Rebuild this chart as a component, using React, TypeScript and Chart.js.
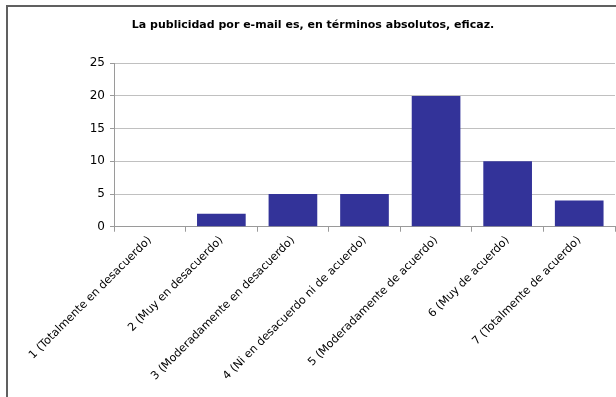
import React, { useEffect, useRef } from "react";
import { Chart, registerables } from "chart.js";

Chart.register(...registerables);

const chartTitle = "La publicidad por e-mail es, en términos absolutos, eficaz.";

const categories = [
  "1 (Totalmente en desacuerdo)",
  "2 (Muy en desacuerdo)",
  "3 (Moderadamente en desacuerdo)",
  "4 (Ni en desacuerdo ni de acuerdo)",
  "5 (Moderadamente de acuerdo)",
  "6 (Muy de acuerdo)",
  "7 (Totalmente de acuerdo)",
];

const responses = [0, 2, 5, 5, 20, 10, 4];

const yTicks = [0, 5, 10, 15, 20, 25];

const FONT = "'DejaVu Sans', Verdana, sans-serif";

export default function App() {
  const canvasRef = useRef<HTMLCanvasElement | null>(null);

  useEffect(() => {
    document.body.style.margin = "0";
    const canvas = canvasRef.current;
    if (!canvas) return;
    const chart = new Chart(canvas, {
      type: "bar",
      data: {
        labels: categories,
        datasets: [
          {
            data: responses,
            backgroundColor: "#333399",
            borderColor: "#333399",
            borderWidth: 0,
            categoryPercentage: 1,
            barPercentage: 0.68,
          },
        ],
      },
      options: {
        animation: false,
        responsive: false,
        maintainAspectRatio: false,
        layout: { padding: { left: 3, right: 23, top: 0, bottom: 14 } },
        plugins: {
          legend: { display: false },
          tooltip: { enabled: false },
          title: {
            display: true,
            text: chartTitle,
            color: "#000000",
            font: { family: FONT, size: 11, weight: "bold" },
            padding: { top: 12, bottom: 31 },
          },
        },
        scales: {
          x: {
            grid: {
              display: true,
              offset: true,
              drawOnChartArea: false,
              drawTicks: true,
              tickLength: 5,
              color: "#9a9a9a",
            },
            border: { display: true, color: "#9a9a9a", width: 1 },
            ticks: {
              autoSkip: false,
              maxRotation: 45,
              minRotation: 45,
              color: "#000000",
              font: { family: FONT, size: 11.2 },
              padding: 2,
            },
          },
          y: {
            min: 0,
            max: 25,
            afterBuildTicks: (axis: any) => {
              axis.ticks = yTicks.map((v) => ({ value: v }));
            },
            afterFit: (axis: any) => {
              axis.width = 103;
            },
            grid: {
              color: "#c0c0c0",
              drawTicks: true,
              tickLength: 4,
              tickColor: "#9a9a9a",
            },
            border: { display: true, color: "#9a9a9a", width: 1 },
            ticks: {
              color: "#000000",
              font: { family: FONT, size: 12 },
              padding: 5,
            },
          },
        },
      },
    });
    return () => chart.destroy();
  }, []);

  return (
    <div
      style={{
        position: "relative",
        width: 616,
        height: 397,
        overflow: "hidden",
        background: "#ffffff",
      }}
    >
      <div
        style={{
          position: "absolute",
          left: 6,
          top: 5,
          width: 630,
          height: 420,
          border: "2px solid #606060",
          background: "#ffffff",
        }}
      >
        <canvas ref={canvasRef} width={630} height={392} />
      </div>
    </div>
  );
}
